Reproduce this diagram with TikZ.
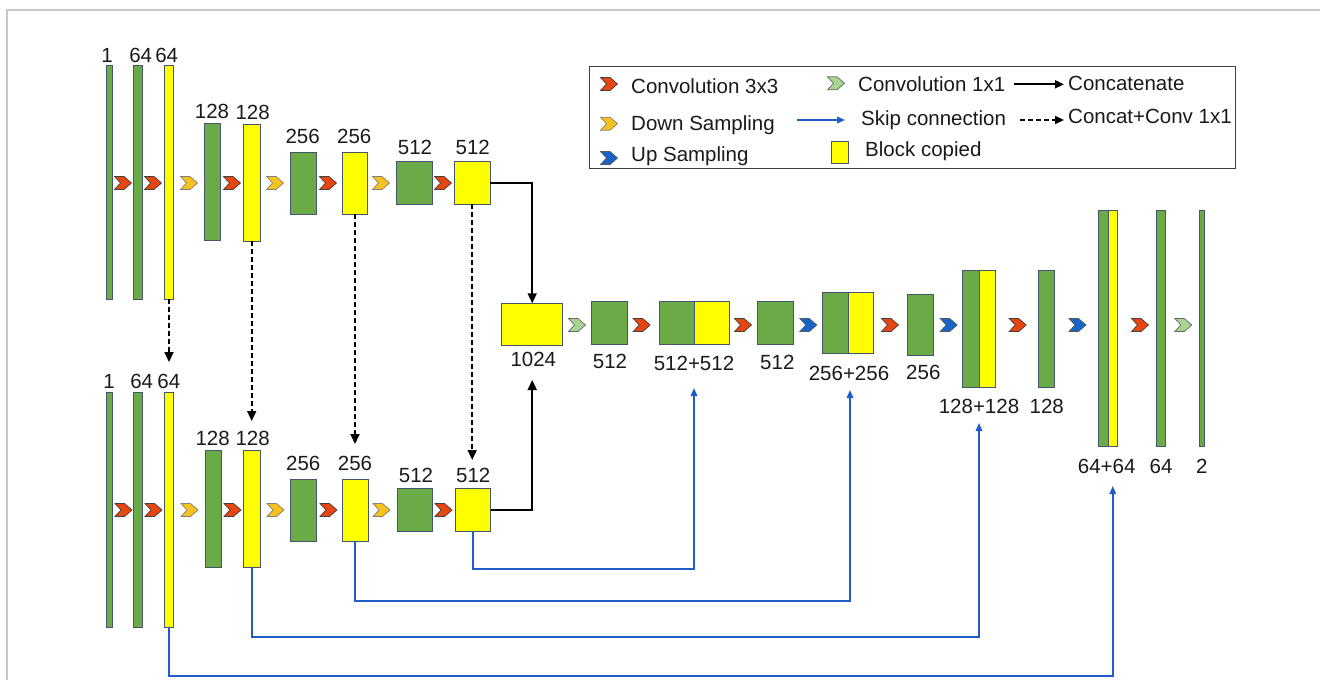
\documentclass[tikz,border=0pt]{standalone}
\usepackage{fontspec}
\setmainfont{Liberation Sans}
\usetikzlibrary{arrows.meta}
\definecolor{gfill}{HTML}{6AAB47}
\definecolor{yfill}{HTML}{FFFF00}
\definecolor{bline}{HTML}{46556E}
\definecolor{cred}{HTML}{E8450F}
\definecolor{cyel}{HTML}{F7C21C}
\definecolor{cblu}{HTML}{1565C8}
\definecolor{cgrn}{HTML}{A8D58F}
\definecolor{skipc}{HTML}{1F5CC8}
\definecolor{txt}{HTML}{1A1A1A}
\definecolor{framec}{HTML}{C8C8C8}
\newcommand{\UBlock}[6]{\node[#1, minimum width=#4pt, minimum height=#5pt] (#6) at (#2,#3) {};}
\tikzset{
  blk/.style={draw=bline, line width=0.9pt, inner sep=0pt, outer sep=0pt},
  gb/.style={blk, fill=gfill},
  yb/.style={blk, fill=yfill},
  lbl/.style={inner sep=0pt, text=txt, font=\fontsize{20.5}{24}\selectfont},
  leg/.style={inner sep=0pt, anchor=base west, text=txt, font=\fontsize{20.5}{24}\selectfont},
  chev/.pic={\path[pic actions] (-8.5,-6.5) -- (1,-6.5) -- (8.5,0) -- (1,6.5) -- (-8.5,6.5) -- (-2.5,0) -- cycle;},
  chr/.style={fill=cred, draw=black!75, line width=0.7pt},
  chy/.style={fill=cyel, draw=black!50, line width=0.7pt},
  chb/.style={fill=cblu, draw=black!65, line width=0.7pt},
  chg/.style={fill=cgrn, draw=black!60, line width=0.7pt},
  dash arrow/.style={line width=1.7pt, dash pattern=on 5pt off 3pt, -{Triangle[length=10pt,width=9pt]}},
  cat arrow/.style={line width=1.7pt, -{Triangle[length=10pt,width=9pt]}},
  skip/.style={draw=skipc, line width=1.6pt, -{Triangle[length=8pt,width=6.5pt]}},
}
\begin{document}
\begin{tikzpicture}[x=1pt,y=-1pt]
\useasboundingbox (0,0) rectangle (1320,680);
\fill[white] (0,0) rectangle (1320,680);
\draw[framec, line width=1.5pt] (7,680) -- (7,10) -- (1320,10);

% ---------- top row ----------
\UBlock{gb}{109}{182}{6}{234}{t1}
\UBlock{gb}{138}{182}{9}{234}{t2}
\UBlock{yb}{169}{182}{9}{234}{t3}
\UBlock{gb}{212.3}{182}{16.7}{117.4}{t4}
\UBlock{yb}{251.7}{182.5}{16.7}{117}{t5}
\UBlock{gb}{303}{183.3}{26}{61.3}{t6}
\UBlock{yb}{355}{183.3}{25.6}{61.3}{t7}
\UBlock{gb}{414.3}{182.8}{35.3}{42.3}{t8}
\UBlock{yb}{472.2}{182.8}{35.7}{42.3}{t9}
\pic[chr] at (123,183) {chev};
\pic[chr] at (153,183) {chev};
\pic[chy] at (189,183) {chev};
\pic[chr] at (232,183) {chev};
\pic[chy] at (275,183) {chev};
\pic[chr] at (328,183) {chev};
\pic[chy] at (381,183) {chev};
\pic[chr] at (443,183) {chev};
\node[lbl] (lt1) at (107,55) {1};
\node[lbl] (lt2) at (140.7,55) {64};
\node[lbl] (lt3) at (166.7,55) {64};
\node[lbl] (lt4) at (212,111) {128};
\node[lbl] (lt5) at (252.7,112.7) {128};
\node[lbl] (lt6) at (302.7,136.7) {256};
\node[lbl] (lt7) at (354.3,136.7) {256};
\node[lbl] (lt8) at (415,147.3) {512};
\node[lbl] (lt9) at (472.7,147.3) {512};

% ---------- bottom row ----------
\UBlock{gb}{109}{509.5}{6}{235}{b1}
\UBlock{gb}{138}{509.5}{9}{235}{b2}
\UBlock{yb}{169}{509.5}{8.6}{235}{b3}
\UBlock{gb}{213.3}{509.2}{16.7}{117}{b4}
\UBlock{yb}{252}{509.2}{16.7}{117}{b5}
\UBlock{gb}{303.7}{510.2}{26}{61.7}{b6}
\UBlock{yb}{355}{510.2}{26}{61.7}{b7}
\UBlock{gb}{415}{509.7}{35.4}{42.7}{b8}
\UBlock{yb}{473}{509.7}{35}{42.7}{b9}
\pic[chr] at (123.5,510) {chev};
\pic[chr] at (153.5,510) {chev};
\pic[chy] at (189.5,510) {chev};
\pic[chr] at (232.5,510) {chev};
\pic[chy] at (275.5,510) {chev};
\pic[chr] at (328.5,510) {chev};
\pic[chy] at (381.5,510) {chev};
\pic[chr] at (443.5,510) {chev};
\node[lbl] (lb1) at (109,381) {1};
\node[lbl] (lb2) at (141.7,381) {64};
\node[lbl] (lb3) at (168.8,381) {64};
\node[lbl] (lb4) at (212.7,438) {128};
\node[lbl] (lb5) at (252.7,438) {128};
\node[lbl] (lb6) at (303.3,463.3) {256};
\node[lbl] (lb7) at (355,463.3) {256};
\node[lbl] (lb8) at (416,475.3) {512};
\node[lbl] (lb9) at (473.3,475.3) {512};

% ---------- dashed concat+conv arrows ----------
\coordinate (d3) at (169,362);
\coordinate (d5) at (251.7,421);
\coordinate (d7) at (355,444);
\coordinate (d9) at (472.2,460);
\draw[dash arrow] (t3.south) -- (d3);
\draw[dash arrow] (t5.south) -- (d5);
\draw[dash arrow] (t7.south) -- (d7);
\draw[dash arrow] (t9.south) -- (d9);

% ---------- middle / decoder row ----------
\UBlock{yb}{532.2}{324.5}{61}{42.4}{m1}
\pic[chg] at (577,325) {chev};
\UBlock{gb}{609.5}{323}{35.6}{42.6}{m2}
\pic[chr] at (641.7,325) {chev};
\UBlock{gb}{676.5}{323}{35}{42.6}{m3a}
\UBlock{yb}{711.5}{323}{35}{42.6}{m3b}
\pic[chr] at (743,325) {chev};
\UBlock{gb}{775.5}{323}{35.6}{42.6}{m4}
\pic[chb] at (808.3,325) {chev};
\UBlock{gb}{835.5}{322.8}{25.6}{61}{m5a}
\UBlock{yb}{860.8}{322.8}{25}{61}{m5b}
\pic[chr] at (890,325) {chev};
\UBlock{gb}{920.3}{324.7}{26}{60.7}{m6}
\pic[chb] at (948.7,325) {chev};
\UBlock{gb}{970.7}{329.2}{16.7}{117}{m7a}
\UBlock{yb}{987.3}{329.2}{16.7}{117}{m7b}
\pic[chr] at (1017.7,325) {chev};
\UBlock{gb}{1046.2}{329.2}{16.3}{117}{m8}
\pic[chb] at (1077.5,325) {chev};
\UBlock{gb}{1103.3}{328.3}{10}{235.3}{m9a}
\UBlock{yb}{1112.8}{328.3}{9}{235.3}{m9b}
\pic[chr] at (1140,325) {chev};
\UBlock{gb}{1160.7}{328.3}{9.3}{235.3}{m10}
\pic[chg] at (1183.3,325) {chev};
\UBlock{gb}{1201.7}{328.3}{5.3}{235.3}{m11}

\node[lbl] (lm1) at (533.3,359.3) {1024};
\node[lbl] (lm2) at (610,361.7) {512};
\node[lbl] (lm3) at (694,363.3) {512+512};
\node[lbl] (lm4) at (777.3,362) {512};
\node[lbl] (lm5) at (849,373.3) {256+256};
\node[lbl] (lm6) at (923.3,372.7) {256};
\node[lbl] (lm7) at (979,406.7) {128+128};
\node[lbl] (lm8) at (1046.7,406.7) {128};
\node[lbl] (lm9) at (1106.7,466.7) {64+64};
\node[lbl] (lm10) at (1161,466.7) {64};
\node[lbl] (lm11) at (1201.7,466.7) {2};

% ---------- concatenate arrows ----------
\coordinate (c1024) at (532.2,380);
\draw[cat arrow] (t9.east) -| (m1.north);
\draw[cat arrow] (b9.east) -| (c1024);

% ---------- skip connections ----------
\coordinate (s1) at (694,388);
\coordinate (s2) at (850,390);
\coordinate (s3) at (979,423);
\coordinate (s4) at (1112.8,486);
\draw[skip] (b9.south) -- ++(0,38) -| (s1);
\draw[skip] (b7.south) -- ++(0,60) -| (s2);
\draw[skip] (b5.south) -- ++(0,69) -| (s3);
\draw[skip] (b3.south) -- ++(0,49) -| (s4);

% ---------- legend ----------
\node[draw=black!75, line width=1pt, minimum width=646pt, minimum height=102pt, inner sep=0pt] (legbox) at (912,117.5) {};
\pic[chr] at (609,84) {chev};
\pic[chy] at (609,123.7) {chev};
\pic[chb] at (609,158) {chev};
\pic[chg] at (836,83.3) {chev};
\node[leg] (lg1) at (631,93.3) {Convolution 3x3};
\node[leg] (lg2) at (631,130) {Down Sampling};
\node[leg] (lg3) at (631,161.7) {Up Sampling};
\node[leg] (lg4) at (858,91.7) {Convolution 1x1};
\node[leg] (lg5) at (1068,90) {Concatenate};
\node[leg] (lg6) at (861,125) {Skip connection};
\node[leg] (lg7) at (1068,123.3) {Concat+Conv 1x1};
\node[leg] (lg8) at (865,156.7) {Block copied};
\node[yb, minimum width=16.8pt, minimum height=21.6pt] (lgsq) at (840.1,152.5) {};
\coordinate (la1) at (1014,84.3);
\coordinate (la2) at (1064,84.3);
\draw[line width=1.7pt, -{Triangle[length=9pt,width=8pt]}] (la1) -- (la2);
\coordinate (lb1c) at (797,120);
\coordinate (lb2c) at (845,120);
\draw[skip] (lb1c) -- (lb2c);
\coordinate (lc1) at (1020,120);
\coordinate (lc2) at (1064,120);
\draw[line width=1.7pt, dash pattern=on 5pt off 3pt, -{Triangle[length=9pt,width=8pt]}] (lc1) -- (lc2);
\end{tikzpicture}
\end{document}
